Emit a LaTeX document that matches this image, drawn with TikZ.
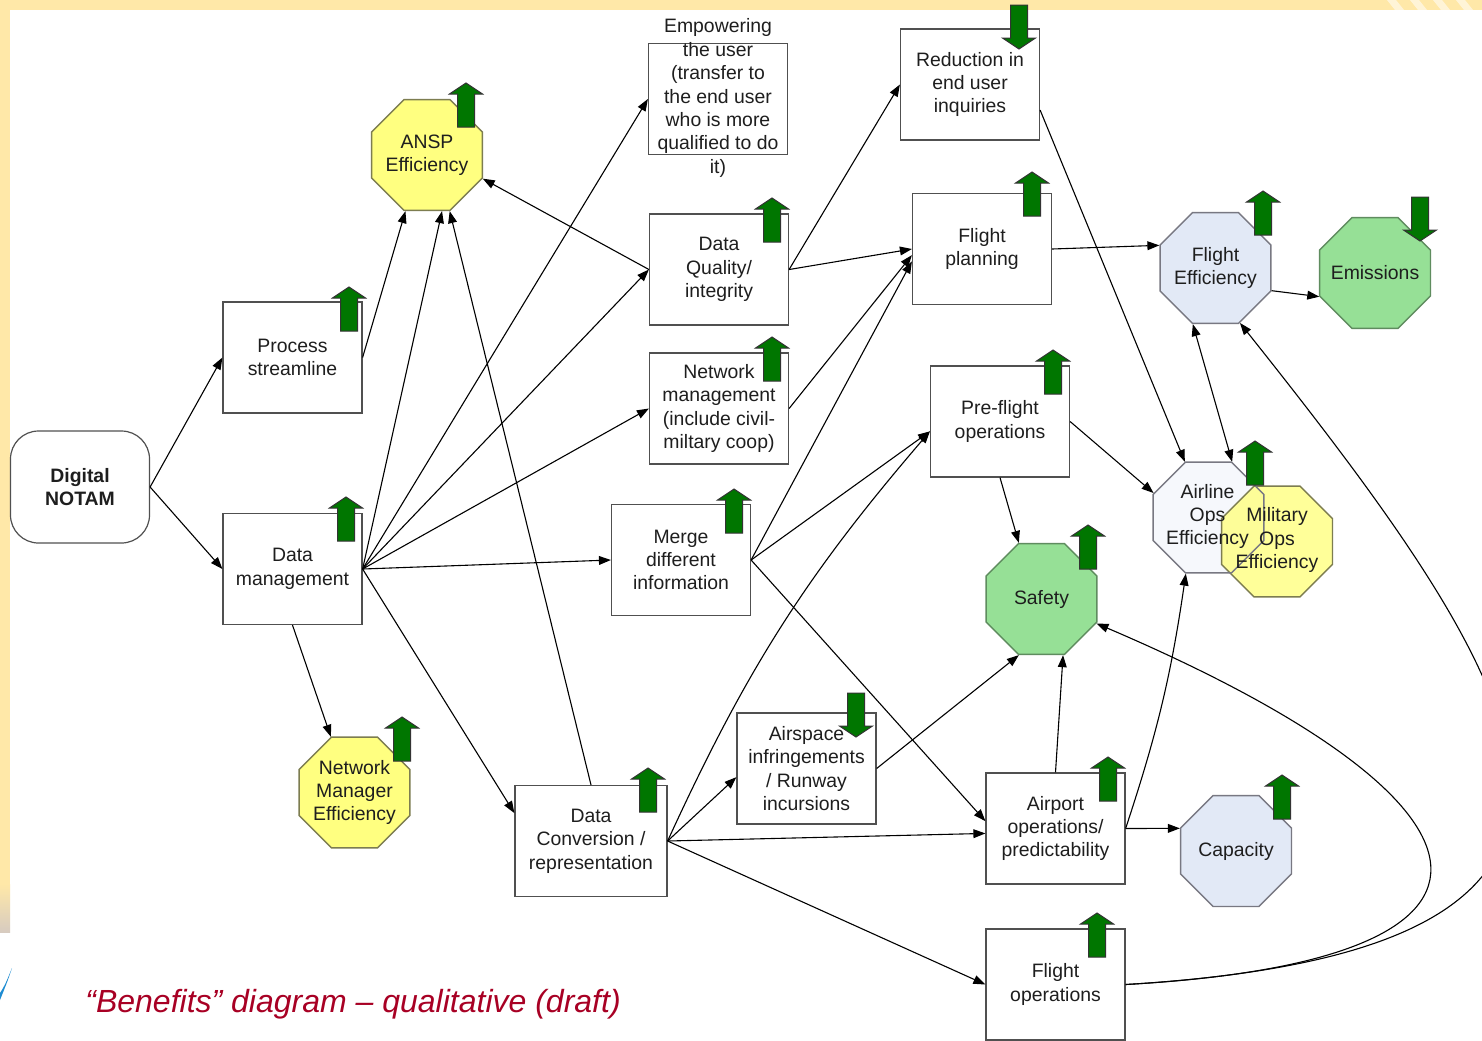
\documentclass[tikz,border=0pt]{standalone}
\usepackage{fontspec}
\setmainfont{Liberation Sans}
\usetikzlibrary{shapes.geometric,arrows.meta}
\definecolor{bgyellow}{RGB}{255,232,168}
\definecolor{boxgray}{RGB}{80,80,80}
\definecolor{octyellow}{RGB}{255,255,128}
\definecolor{octyellowline}{RGB}{125,125,80}
\definecolor{octgreen}{RGB}{150,224,150}
\definecolor{octgreenline}{RGB}{95,140,95}
\definecolor{octblue}{RGB}{226,233,246}
\definecolor{octpale}{RGB}{246,248,252}
\definecolor{octblueline}{RGB}{120,120,130}
\definecolor{garrowfill}{RGB}{0,118,0}
\definecolor{captionred}{RGB}{168,0,36}
\definecolor{textcol}{RGB}{30,30,30}
\definecolor{swoosh}{RGB}{30,140,210}
\newcommand\lblfont{\fontsize{9.7pt}{11.7pt}\selectfont}
\newcommand\GreenUp[2]{\filldraw[garrow] (#1,#2) -- ++(16.5,11) -- ++(-8,0) -- ++(0,33) -- ++(-17,0) -- ++(0,-33) -- ++(-8,0) -- cycle;}
\newcommand\GreenDown[2]{\filldraw[garrow] (#1,#2) -- ++(16.5,-11) -- ++(-8,0) -- ++(0,-33) -- ++(-17,0) -- ++(0,33) -- ++(-8,0) -- cycle;}
\begin{document}
\begin{tikzpicture}[x=0.5pt,y=-0.5pt,
  box/.style={draw=boxgray, line width=0.6pt, fill=white, minimum width=69.5pt, minimum height=55.5pt, align=center, inner sep=0pt, font=\lblfont, text=textcol},
  oct/.style={regular polygon, regular polygon sides=8, minimum size=60pt, inner sep=0pt, line width=0.7pt},
  octtext/.style={align=center, font=\lblfont, text=textcol, inner sep=0pt},
  yoct/.style={oct, draw=octyellowline, fill=octyellow},
  goct/.style={oct, draw=octgreenline, fill=octgreen},
  boct/.style={oct, draw=octblueline, fill=octblue},
  conn/.style={draw=black, line width=0.55pt, -{Triangle[length=6pt,width=4.4pt]}},
  garrow/.style={fill=garrowfill, draw=black!80, line width=0.5pt}]
\useasboundingbox (0,0) rectangle (1482,1040);
% background
\fill[white] (0,0) rectangle (1482,1040);
\fill[bgyellow] (0,0) rectangle (1482,10);
\fill[bgyellow] (0,0) rectangle (10,885);
\shade[top color=bgyellow, bottom color={rgb,255:red,215;green,203;blue,192}] (0,884) rectangle (10,932);
\foreach \sx in {1387,1410,1433,1456}{\fill[white,opacity=0.55] (\sx,0) -- ++(9,0) -- ++(8,10) -- ++(-9,0) -- cycle;}
\fill[swoosh] (0,993) .. controls (5,985) .. (12,968) .. controls (8,980) .. (0,1000) -- cycle;

% nodes
\node[box, rounded corners=14pt, minimum width=69.5pt, minimum height=56pt, font=\lblfont\bfseries] (dn) at (80,487) {Digital\\NOTAM};
\node[box] (ps) at (292.5,357.5) {Process\\streamline};
\node[box] (dm) at (292.5,569) {Data\\management};
\node[yoct] (ansp) at (427,155) {};
\node[octtext] (anspt) at (ansp.center) {ANSP\\Efficiency};
\node[yoct] (nme) at (354.5,792.5) {};
\node[octtext] (nmet) at (nme.center) {Network\\Manager\\Efficiency};
\node[box] (emp) at (718,99) {};
\node[octtext] (empt) at (718,98) {Empowering\\the user\\(transfer to\\the end user\\who is more\\qualified to do\\it)};
\node[box] (dq) at (719,269.5) {Data\\Quality/\\integrity};
\node[box] (nm) at (719,408.5) {Network\\management\\(include civil-\\miltary coop)};
\node[box] (merge) at (681,560) {Merge\\different\\information};
\node[box, minimum width=76pt] (dc) at (591,841) {Data\\Conversion /\\representation};
\node[box] (air) at (806.5,768.5) {Airspace\\infringements\\/ Runway\\incursions};
\node[box] (red) at (970,84.5) {Reduction in\\end user\\inquiries};
\node[box] (fp) at (982,249) {Flight\\planning};
\node[box] (pf) at (1000,421.5) {Pre-flight\\operations};
\node[goct] (safety) at (1041.5,599) {};
\node[octtext] (safetyt) at (safety.center) {Safety};
\node[box] (ao) at (1055.5,828.5) {Airport\\operations/\\predictability};
\node[box] (fo) at (1055.5,984.5) {Flight\\operations};
\node[boct] (fe) at (1215.5,268) {};
\node[octtext] (fet) at (fe.center) {Flight\\Efficiency};
\node[goct] (em) at (1375,273) {};
\node[octtext] (emt) at (em.center) {Emissions};
\node[oct, fill=octpale] (aoe) at (1208.5,517.5) {};
\node[oct, draw=octyellowline, fill=octyellow, fill opacity=0.8] (moe) at (1277,541.5) {};
\node[oct, draw=octblueline] (aoeline) at (1208.5,517.5) {};
\node[octtext] (aoet) at (1207.5,516.5) {Airline\\Ops\\Efficiency};
\node[octtext] (moet) at (1277,540) {Military\\Ops\\Efficiency};
\node[boct] (cap) at (1236,851) {};
\node[octtext] (capt) at (cap.center) {Capacity};

% connectors
\draw[conn] (dn.east) -- (ps.west);
\draw[conn] (dn.east) -- (dm.west);
\draw[conn] (ps.east) -- (ansp.-111);
\draw[conn] (dm.east) -- (ansp.-75);
\draw[conn] (dc.north) -- (ansp.-68);
\draw[conn] (dq.west) -- (ansp.-23);
\draw[conn] (dm.east) -- (emp.west);
\draw[conn] (dm.east) -- (dq.west);
\draw[conn] (dm.east) -- (nm.west);
\draw[conn] (dm.east) -- (merge.west);
\draw[conn] (dm.east) -- (dc.160);
\draw[conn] (dm.south) -- (nme.113);
\draw[conn] (dq.east) -- (red.west);
\draw[conn] (dq.east) -- (fp.west);
\draw[conn] (nm.east) -- (fp.-175);
\draw[conn] (merge.east) -- (fp.-170);
\draw[conn] (merge.east) -- (pf.-172);
\draw[conn] (dc.east) to[bend left=8] (pf.-172);
\draw[conn] (merge.east) -- (ao.174);
\draw[conn] (dc.east) -- (air.-173);
\draw[conn] (dc.east) -- (ao.-176);
\draw[conn] (dc.east) -- (fo.west);
\draw[conn] (air.east) -- (safety.-112);
\draw[conn] (ao.north) -- (safety.-69);
\draw[conn] (ao.east) to[bend right=5] (aoe.-112);
\draw[conn] (ao.east) -- (cap.158);
\draw[conn] (pf.east) -- (aoe.156);
\draw[conn] (pf.south) -- (safety.112);
\draw[conn] (red.-20) -- (aoe.113);
\draw[conn] (fp.east) -- (fe.158);
\draw[conn] (fe.-22) -- (em.-157);
\draw[conn, {Triangle[length=6pt,width=4.4pt]}-{Triangle[length=6pt,width=4.4pt]}] (fe.-112) -- (aoe.67);
\draw[conn] (fo.east) .. controls (1560,960) and (1510,800) .. (safety.-24);
\draw[conn] (fo.east) .. controls (1700,950) and (1540,700) .. (fe.-66);

% green indicator arrows
\GreenUp{466}{83}
\GreenUp{349}{287}
\GreenUp{346}{497}
\GreenUp{402}{717}
\GreenUp{772}{198}
\GreenUp{772}{337}
\GreenUp{734}{489}
\GreenUp{648}{768}
\GreenUp{1032}{172}
\GreenUp{1053}{350}
\GreenUp{1088}{525}
\GreenUp{1255}{441}
\GreenUp{1263}{191}
\GreenUp{1108}{757}
\GreenUp{1282}{775}
\GreenUp{1097}{913}
\GreenDown{856}{737}
\GreenDown{1019}{49}
\GreenDown{1420}{241}

% caption
\node[anchor=base west, inner sep=0pt, text=captionred, font=\fontsize{16pt}{19pt}\selectfont\itshape] (caption) at (85,1012) {“Benefits” diagram – qualitative (draft)};
\end{tikzpicture}
\end{document}
